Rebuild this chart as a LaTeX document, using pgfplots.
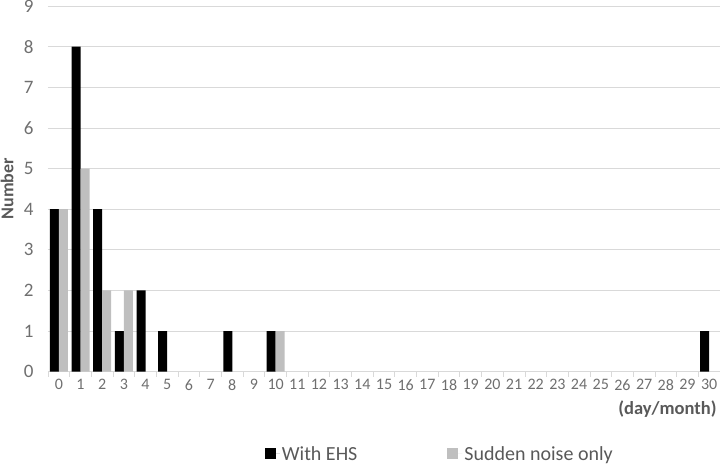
\documentclass[border=0pt]{standalone}
\usepackage{fontspec}
\setmainfont{Carlito}
\usepackage{pgfplots}
\pgfplotsset{compat=1.18}
\definecolor{txt}{HTML}{595959}
\definecolor{tck}{HTML}{6F6F6F}
\definecolor{grd}{HTML}{D9D9D9}
\definecolor{gbar}{HTML}{BFBFBF}
\begin{document}
\begin{tikzpicture}[x=1pt,y=1pt]
\useasboundingbox (0,0) rectangle (720,464);
\begin{axis}[
 at={(48pt,92.3pt)}, anchor=south west,
 scale only axis, width=672pt, height=365.7pt,
 xmin=-0.5, xmax=30.5, ymin=0, ymax=9,
 ybar=0pt, bar width=9pt,
 axis x line*=bottom, axis y line*=left,
 y axis line style={draw=none},
 x axis line style={draw=grd, line width=0.8pt, -},
 ymajorgrids, grid style={draw=grd, line width=0.8pt},
 ytick={0,...,9}, xtick={0,...,30},
 minor xtick={-0.5,0.5,...,30.5},
 major tick length=0pt, minor tick length=5pt, tick align=outside,
 minor x tick style={draw=grd, line width=0.8pt},
 ytick style={draw=none},
 /pgf/number format/assume math mode=true,
 xticklabel style={font=\fontsize{16}{16}\selectfont, text=tck, yshift=-4pt},
 yticklabel style={font=\fontsize{19}{19}\selectfont, text=tck, xshift=-11pt},
 ylabel={Number},
 ylabel style={at={(axis description cs:-0.061,0.5)}, anchor=center, font=\fontsize{18}{18}\bfseries\selectfont, text=txt},
 xlabel={(day/month)},
 xlabel style={at={(axis description cs:1.0,-0.101)}, anchor=east, font=\fontsize{18.5}{18.5}\bfseries\selectfont, text=txt},
 legend style={at={(axis description cs:0.318,-0.225)}, anchor=west, draw=none, fill=none,
   font=\fontsize{20}{20}\selectfont, text=txt, legend columns=2,
   /tikz/every even column/.append style={column sep=88pt}},
 legend image code/.code={\fill[#1] (0pt,-5.5pt) rectangle (11pt,5.5pt); \path (0pt,0pt) -- (15pt,0pt);},
]
\addplot[fill=black, draw=none] coordinates {(0,4)(1,8)(2,4)(3,1)(4,2)(5,1)(8,1)(10,1)(30,1)};
\addplot[fill=gbar, draw=none] coordinates {(0,4)(1,5)(2,2)(3,2)(10,1)};
\legend{With EHS, Sudden noise only}
\end{axis}
\end{tikzpicture}
\end{document}
